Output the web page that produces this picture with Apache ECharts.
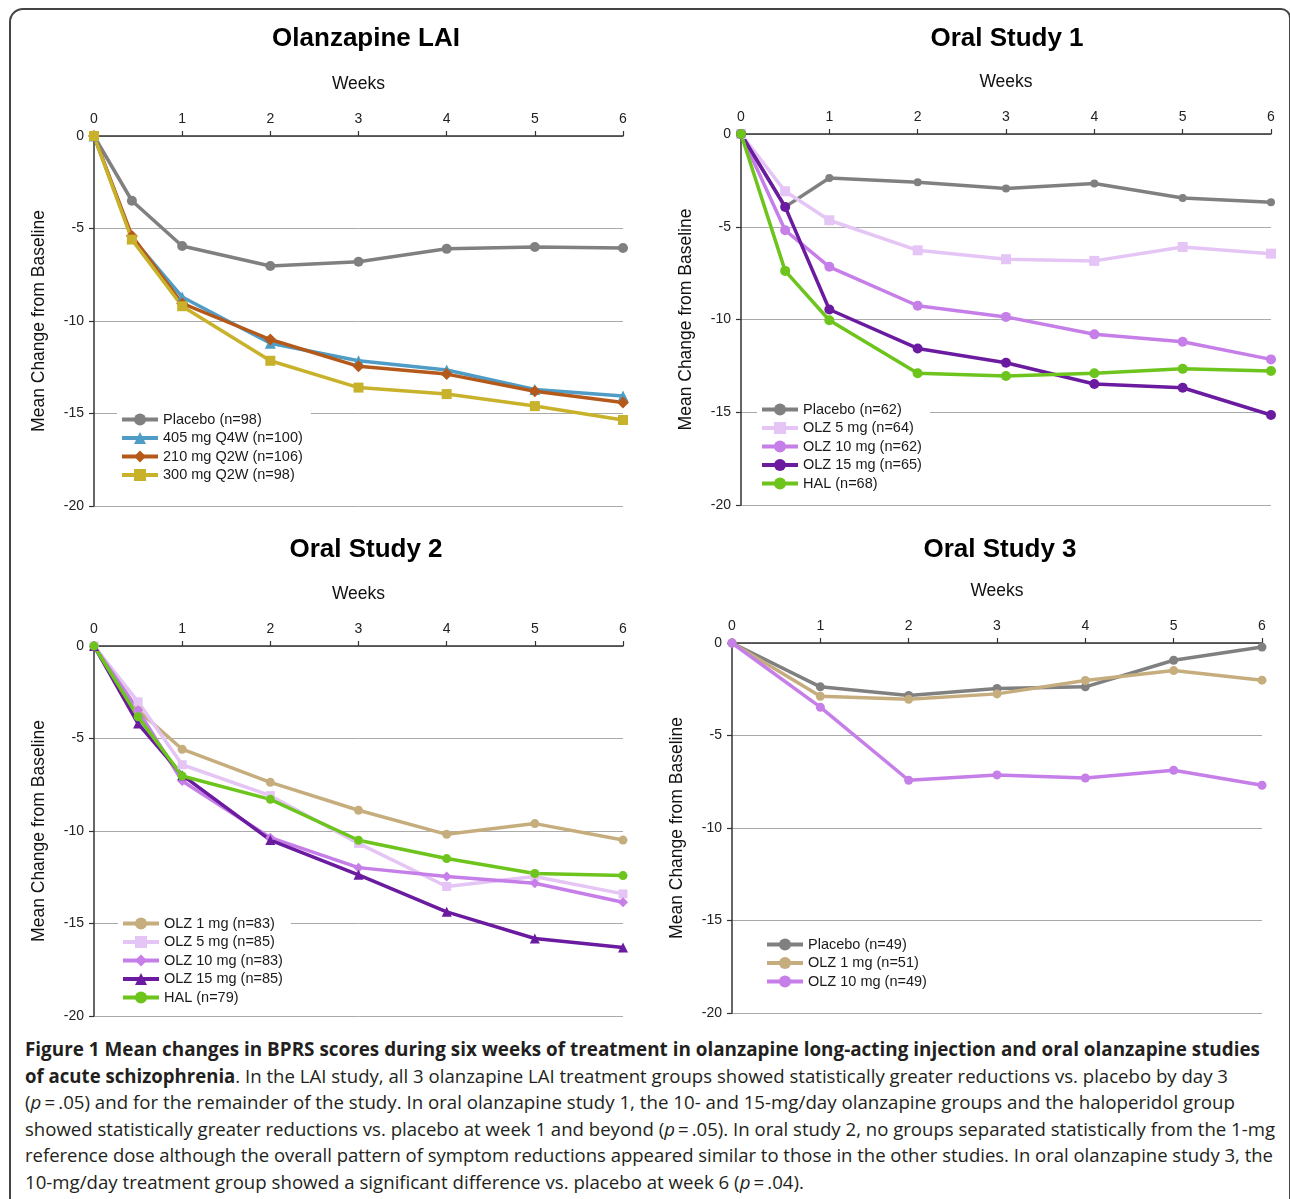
<!DOCTYPE html>
<html>
<head>
<meta charset="utf-8">
<script src="https://cdn.jsdelivr.net/npm/echarts@6/dist/echarts.min.js"></script>
<style>
  html, body { margin: 0; padding: 0; background: #fff; }
  body { width: 1290px; height: 1199px; position: relative; overflow: hidden; }
  #frame {
    position: absolute; left: 9px; top: 8px;
    width: 1282px; height: 1300px; box-sizing: border-box;
    border: 2px solid #444; border-top-left-radius: 14px; border-top-right-radius: 10px;
  }
  #chart { position: absolute; left: 0; top: 0; width: 1290px; height: 1030px; }
  #caption {
    position: absolute; left: 25px; top: 1036px;
    font-family: "Open Sans", "Noto Sans", sans-serif; font-size: 19px;
    line-height: 26.6px; color: #231f20;
  }
  #caption .ln { display: block; white-space: nowrap; transform-origin: 0 50%; width: max-content; }
  #caption b { font-weight: 700; }
</style>
</head>
<body>
<div id="frame"></div>
<div id="chart"></div>
<div id="caption">
  <span class="ln"><b>Figure 1 Mean changes in BPRS scores during six weeks of treatment in olanzapine long-acting injection and oral olanzapine studies</b></span>
  <span class="ln"><b>of acute schizophrenia</b>. In the LAI study, all 3 olanzapine LAI treatment groups showed statistically greater reductions vs. placebo by day 3</span>
  <span class="ln">(<i>p</i>&#8201;=&#8201;.05) and for the remainder of the study. In oral olanzapine study 1, the 10- and 15-mg/day olanzapine groups and the haloperidol group</span>
  <span class="ln">showed statistically greater reductions vs. placebo at week 1 and beyond (<i>p</i>&#8201;=&#8201;.05). In oral study 2, no groups separated statistically from the 1-mg</span>
  <span class="ln">reference dose although the overall pattern of symptom reductions appeared similar to those in the other studies. In oral olanzapine study 3, the</span>
  <span class="ln">10-mg/day treatment group showed a significant difference vs. placebo at week 6 (<i>p</i>&#8201;=&#8201;.04).</span>
</div>
<script>
// weeks on the x axis
const laiWeeks = [0, 0.43, 1, 2, 3, 4, 5, 6];
const oralWeeks = [0, 0.5, 1, 2, 3, 4, 5, 6];
const study3Weeks = [0, 1, 2, 3, 4, 5, 6];

// Olanzapine LAI
const laiPlacebo = [0, -3.5, -5.95, -7.03, -6.8, -6.1, -6.0, -6.05];
const lai405 = [0, -5.5, -8.7, -11.2, -12.15, -12.65, -13.7, -14.05];
const lai210 = [0, -5.4, -9.05, -11.0, -12.45, -12.87, -13.8, -14.4];
const lai300 = [0, -5.6, -9.2, -12.15, -13.6, -13.95, -14.6, -15.35];

// Oral Study 1
const s1Placebo = [0, -3.93, -2.37, -2.6, -2.94, -2.67, -3.45, -3.68];
const s1Olz5 = [0, -3.09, -4.65, -6.27, -6.75, -6.84, -6.09, -6.45];
const s1Olz10 = [0, -5.19, -7.16, -9.26, -9.86, -10.8, -11.2, -12.15];
const s1Olz15 = [0, -3.93, -9.46, -11.56, -12.33, -13.48, -13.68, -15.15];
const s1Hal = [0, -7.38, -10.04, -12.9, -13.05, -12.9, -12.66, -12.78];

// Oral Study 2
const s2Olz1 = [0, -3.47, -5.58, -7.37, -8.88, -10.18, -9.6, -10.49];
const s2Olz5 = [0, -3.02, -6.42, -8.09, -10.67, -13.0, -12.46, -13.4];
const s2Olz10 = [0, -3.47, -7.3, -10.36, -11.98, -12.46, -12.82, -13.85];
const s2Olz15 = [0, -4.19, -6.98, -10.49, -12.37, -14.37, -15.81, -16.3];
const s2Hal = [0, -3.83, -7.03, -8.29, -10.5, -11.49, -12.3, -12.41];

// Oral Study 3
const s3Placebo = [0, -2.37, -2.84, -2.46, -2.37, -0.93, -0.22];
const s3Olz1 = [0, -2.88, -3.04, -2.75, -2.03, -1.49, -2.01];
const s3Olz10 = [0, -3.47, -7.42, -7.13, -7.3, -6.88, -7.69];

const yTicks = [0, -5, -10, -15, -20];

const FONT = '"Liberation Sans", Arial, Helvetica, sans-serif';
const C = {
  placebo: '#808080', blue: '#4f9dc6', brown: '#b5591b', olive: '#c8b22b',
  tan: '#c6ad7e', lav: '#e5c5f5', orchid: '#c67ee8', violet: '#6b1ba0', green: '#6dc41c'
};

const grids = [
  { left: 94, top: 136, width: 529, height: 370 },
  { left: 741, top: 134, width: 530, height: 371 },
  { left: 94, top: 646, width: 529, height: 370 },
  { left: 732, top: 643, width: 530, height: 370 }
];

function xAxisFor(i) {
  return {
    gridIndex: i, type: 'value', position: 'top', min: 0, max: 6, interval: 1,
    name: 'Weeks', nameLocation: 'middle', nameGap: 43,
    nameTextStyle: { fontFamily: FONT, fontSize: 17.5, color: '#111' },
    axisLine: { show: true, onZero: false, lineStyle: { color: '#333', width: 1.5 } },
    axisTick: { show: true, length: 5, lineStyle: { color: '#333', width: 1.2 } },
    axisLabel: { fontFamily: FONT, fontSize: 14, color: '#222', margin: 10 },
    splitLine: { show: false }
  };
}
function yAxisFor(i) {
  return {
    gridIndex: i, type: 'value', min: yTicks[yTicks.length - 1], max: yTicks[0], interval: 5,
    name: 'Mean Change from Baseline', nameLocation: 'middle', nameGap: 46,
    nameTextStyle: { fontFamily: FONT, fontSize: 17.5, color: '#111' },
    axisLine: { show: true, onZero: false, lineStyle: { color: '#333', width: 1.5 } },
    axisTick: { show: true, length: 5, lineStyle: { color: '#333', width: 1.2 } },
    axisLabel: { fontFamily: FONT, fontSize: 14, color: '#222', margin: 10 },
    splitLine: { show: true, lineStyle: { color: '#aaa', width: 1 } }
  };
}

function mk(i, name, weeks, vals, color, symbol, size) {
  return {
    type: 'line', name: name, xAxisIndex: i, yAxisIndex: i,
    data: weeks.map((w, k) => [w, vals[k]]),
    symbol: symbol, symbolSize: size, showSymbol: true,
    lineStyle: { color: color, width: 3.5 },
    itemStyle: { color: color, borderWidth: 0 },
    emphasis: { disabled: true }
  };
}

const series = [
  mk(0, 'Placebo (n=98)', laiWeeks, laiPlacebo, C.placebo, 'circle', 10),
  mk(0, '405 mg Q4W (n=100)', laiWeeks, lai405, C.blue, 'triangle', 11),
  mk(0, '210 mg Q2W (n=106)', laiWeeks, lai210, C.brown, 'diamond', 12),
  mk(0, '300 mg Q2W (n=98)', laiWeeks, lai300, C.olive, 'rect', 10),

  mk(1, 'Placebo (n=62)', oralWeeks, s1Placebo, C.placebo, 'circle', 8),
  mk(1, 'OLZ 5 mg (n=64)', oralWeeks, s1Olz5, C.lav, 'rect', 10),
  mk(1, 'OLZ 10 mg (n=62)', oralWeeks, s1Olz10, C.orchid, 'circle', 10),
  mk(1, 'OLZ 15 mg (n=65)', oralWeeks, s1Olz15, C.violet, 'circle', 10),
  mk(1, 'HAL (n=68)', oralWeeks, s1Hal, C.green, 'circle', 10),

  mk(2, 'OLZ 1 mg (n=83)', oralWeeks, s2Olz1, C.tan, 'circle', 9),
  mk(2, 'OLZ 5 mg (n=85)', oralWeeks, s2Olz5, C.lav, 'rect', 9),
  mk(2, 'OLZ 10 mg (n=83)', oralWeeks, s2Olz10, C.orchid, 'diamond', 10),
  mk(2, 'OLZ 15 mg (n=85)', oralWeeks, s2Olz15, C.violet, 'triangle', 10),
  mk(2, 'HAL (n=79)', oralWeeks, s2Hal, C.green, 'circle', 9),

  mk(3, 'Placebo (n=49)', study3Weeks, s3Placebo, C.placebo, 'circle', 9),
  mk(3, 'OLZ 1 mg (n=51)', study3Weeks, s3Olz1, C.tan, 'circle', 9),
  mk(3, 'OLZ 10 mg (n=49)', study3Weeks, s3Olz10, C.orchid, 'circle', 9)
];

function legendFor(i, left, top) {
  return {
    data: series.filter(s => s.xAxisIndex === i).map(s => s.name),
    orient: 'vertical', left: left, top: top,
    itemWidth: 36, itemHeight: 15, itemGap: 3.5,
    backgroundColor: '#fff', padding: [2, 8, 2, 3],
    selectedMode: false,
    lineStyle: { width: 4 },
    textStyle: { fontFamily: FONT, fontSize: 14.5, color: '#1a1a1a', lineHeight: 15 }
  };
}

const titles = [
  ['Olanzapine LAI', 366, 39],
  ['Oral Study 1', 1007, 39],
  ['Oral Study 2', 366, 550],
  ['Oral Study 3', 1000, 550]
];

const chart = echarts.init(document.getElementById('chart'), null, { renderer: 'canvas' });
chart.setOption({
  animation: false,
  grid: grids,
  xAxis: [0, 1, 2, 3].map(xAxisFor),
  yAxis: [0, 1, 2, 3].map(yAxisFor),
  legend: [
    legendFor(0, 117, 410),
    legendFor(1, 757, 400),
    legendFor(2, 118, 914),
    legendFor(3, 762, 935)
  ],
  graphic: titles.map(t => ({
    type: 'text', x: t[1], y: t[2],
    style: {
      text: t[0], fontFamily: FONT, fontSize: 26, fontWeight: 'bold', fill: '#000',
      align: 'center', verticalAlign: 'middle'
    }
  })),
  series: series
});

// stretch caption lines to the widths of the printed caption
const targets = [1235, 1203, 1210, 1250, 1248, null];
const lines = document.querySelectorAll('#caption .ln');
let scales = [];
lines.forEach((el, k) => {
  const w = el.getBoundingClientRect().width;
  if (targets[k]) scales.push(targets[k] / w);
});
const avg = scales.reduce((a, b) => a + b, 0) / scales.length;
lines.forEach((el, k) => {
  const w = el.getBoundingClientRect().width;
  const s = targets[k] ? targets[k] / w : avg;
  el.style.transform = 'scaleX(' + s.toFixed(4) + ')';
});
</script>
</body>
</html>
